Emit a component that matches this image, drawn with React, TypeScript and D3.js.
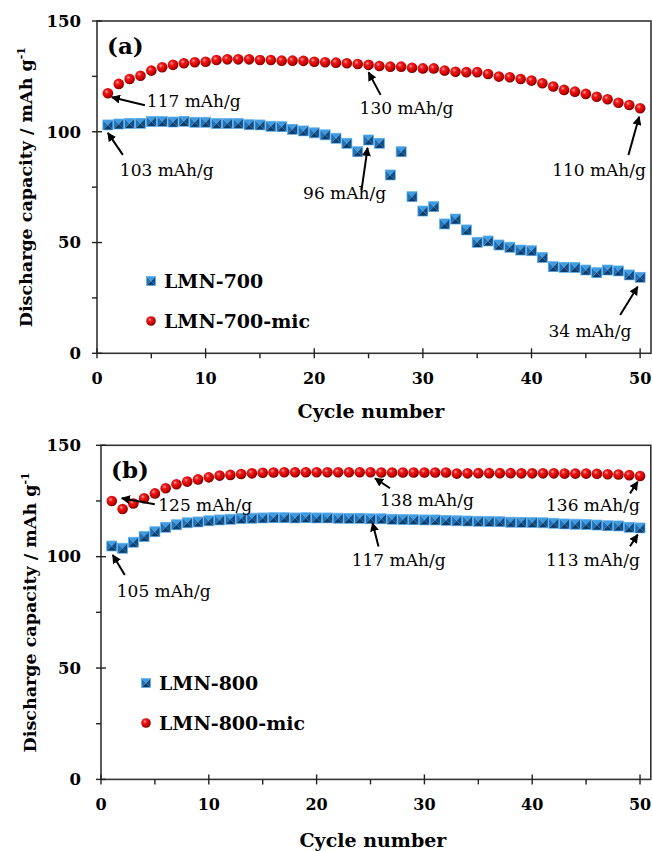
import React from "react";
import * as d3 from "d3";

const cycles = d3.range(1, 51);

const lmn700 = [103.1,103.5,103.7,103.8,104.6,104.6,104.4,104.7,104.3,104.3,
  103.7,103.7,103.7,103.2,103.1,102.5,102.3,101.1,100.4,99.5,
  98.6,97.1,94.8,91.0,96.3,94.8,80.5,91.0,70.7,64.2,
  66.2,58.4,60.6,55.7,50.1,50.7,48.9,47.9,46.6,46.3,
  43.3,39.1,38.8,38.7,37.6,36.4,37.6,37.2,35.4,34.3];

const lmn700mic = [117.4,121.6,123.8,125.3,127.6,129.1,130.2,130.9,131.4,131.6,
  132.4,132.7,132.7,132.7,132.4,132.4,132.1,132.1,132.0,131.6,
  131.4,131.2,130.9,130.6,130.2,129.7,129.4,129.4,128.9,128.6,
  128.6,127.6,127.1,126.9,126.9,126.1,124.9,124.6,123.8,123.1,
  121.9,120.4,118.9,118.1,117.1,115.8,114.7,113.1,112.1,110.6];

const lmn800 = [104.8,103.8,106.5,109.0,111.2,113.2,114.3,115.2,115.6,116.1,
  116.5,116.8,117.1,117.3,117.4,117.5,117.5,117.4,117.5,117.4,
  117.4,117.3,117.2,117.2,117.0,117.0,116.8,116.7,116.6,116.5,
  116.5,116.3,116.1,116.0,115.9,115.8,115.7,115.5,115.4,115.3,
  115.2,115.0,114.7,114.6,114.4,114.2,113.9,113.8,113.2,112.9];

const lmn800mic = [125.0,121.4,123.9,126.2,128.4,130.7,132.5,133.7,134.7,135.6,
  136.4,136.7,137.1,137.4,137.7,137.8,137.9,137.9,137.9,137.9,
  137.9,137.9,137.9,137.9,137.9,137.8,137.8,137.8,137.8,137.8,
  137.8,137.8,137.3,137.4,137.5,137.5,137.5,137.5,137.4,137.4,
  137.4,137.4,137.3,137.3,137.3,137.2,137.0,136.9,136.6,136.2];

const xTicks = [0, 10, 20, 30, 40, 50];
const xMinor = [5, 15, 25, 35, 45];
const yTicks = [0, 50, 100, 150];
const yMinor = [25, 75, 125];

const namesA = ["LMN-700", "LMN-700-mic"];
const namesB = ["LMN-800", "LMN-800-mic"];

// annotations: series index (0 square, 1 sphere), cycle, label
const annA = [
  { s: 1, c: 1, label: "117 mAh/g" },
  { s: 0, c: 1, label: "103 mAh/g" },
  { s: 0, c: 25, label: "96 mAh/g" },
  { s: 1, c: 25, label: "130 mAh/g" },
  { s: 1, c: 50, label: "110 mAh/g" },
  { s: 0, c: 50, label: "34 mAh/g" },
];
const annB = [
  { s: 1, c: 1, label: "125 mAh/g" },
  { s: 0, c: 1, label: "105 mAh/g" },
  { s: 1, c: 25, label: "138 mAh/g" },
  { s: 0, c: 25, label: "117 mAh/g" },
  { s: 1, c: 50, label: "136 mAh/g" },
  { s: 0, c: 50, label: "113 mAh/g" },
];

// layout offsets (pixels) for annotation head, tail, text relative to data point
const annLayoutA = [
  { head: [4, 4], tail: [37, 12], text: [39, 13.5] },
  { head: [0, 8], tail: [15, 30], text: [12, 51.5] },
  { head: [-1, 8], tail: [-7, 50], text: [-65.5, 59] },
  { head: [0, 7.5], tail: [12, 30], text: [-9, 49] },
  { head: [-1, 8.5], tail: [-11.7, 46.7], text: [-88, 68] },
  { head: [-2.5, 9.5], tail: [-20, 37.7], text: [-91.7, 59.7] },
];
const annLayoutB = [
  { head: [10, -2.7], tail: [43, 3.3], text: [46.5, 10] },
  { head: [1, 9], tail: [13, 29], text: [5, 51] },
  { head: [4.5, 6], tail: [19.5, 16], text: [9.5, 33.7] },
  { head: [2, 4.3], tail: [8, 27.7], text: [-18.8, 47] },
  { head: [-2.3, 5.7], tail: [-10, 17.3], text: [-94, 35] },
  { head: [-2.3, 6.7], tail: [-10, 18.3], text: [-94, 37.7] },
];

const FONT = "'DejaVu Serif', serif";

function Square({ cx, cy, h }: { cx: number; cy: number; h: number }) {
  const p = (pts: number[][]) => pts.map((q) => q.join(",")).join(" ");
  return (
    <g>
      <polygon points={p([[cx - h, cy - h], [cx + h, cy - h], [cx, cy]])} fill="#3f9be0" />
      <polygon points={p([[cx - h, cy - h], [cx - h, cy + h], [cx, cy]])} fill="#1f72b8" />
      <polygon points={p([[cx + h, cy - h], [cx + h, cy + h], [cx, cy]])} fill="#0d4f8a" />
      <polygon points={p([[cx - h, cy + h], [cx + h, cy + h], [cx, cy]])} fill="#0a3d6c" />
      <rect x={cx - h} y={cy - h} width={2 * h} height={2 * h} fill="none" stroke="#5aaef0" strokeWidth={0.7} />
    </g>
  );
}

function Sphere({ cx, cy, r }: { cx: number; cy: number; r: number }) {
  return <circle cx={cx} cy={cy} r={r} fill="url(#sphereGrad)" />;
}

function Panel({
  top, bottom, left, right, xMax, sq, sp, names, ann, layout, tag, legendX, legendY, titleDy,
}: any) {
  const x = d3.scaleLinear().domain([0, xMax]).range([left, right]);
  const y = d3.scaleLinear().domain([0, 150]).range([bottom, top]);
  const series = [sq, sp];
  return (
    <g>
      <rect x={left} y={top} width={right - left} height={bottom - top} fill="none" stroke="#333" strokeWidth={1.6} />
      {xTicks.map((t) => (
        <g key={"xt" + t}>
          <line x1={x(t)} x2={x(t)} y1={bottom - 5} y2={bottom + 5} stroke="#222" strokeWidth={1.4} />
          <text x={x(t)} y={bottom + 31} textAnchor="middle" fontFamily={FONT} fontWeight="bold" fontSize={16}>{t}</text>
        </g>
      ))}
      {xMinor.map((t) => (
        <line key={"xm" + t} x1={x(t)} x2={x(t)} y1={bottom} y2={bottom + 5} stroke="#222" strokeWidth={1.4} />
      ))}
      {yTicks.map((t) => (
        <g key={"yt" + t}>
          <line x1={left - 5} x2={left + 5} y1={y(t)} y2={y(t)} stroke="#222" strokeWidth={1.4} />
          <text x={81} y={y(t)} dy="0.35em" textAnchor="end" fontFamily={FONT} fontWeight="bold" fontSize={16.5}>{t}</text>
        </g>
      ))}
      {yMinor.map((t) => (
        <line key={"ym" + t} x1={left - 5} x2={left} y1={y(t)} y2={y(t)} stroke="#222" strokeWidth={1.4} />
      ))}
      <text x={(left + right) / 2 - 3} y={bottom + titleDy} textAnchor="middle" fontFamily={FONT} fontWeight="bold" fontSize={19}>Cycle number</text>
      <text transform={`translate(${left - 65}, ${(top + bottom) / 2}) rotate(-90)`} textAnchor="middle" fontFamily={FONT} fontWeight="bold" fontSize={17.5}>
        Discharge capacity / mAh g<tspan dy={-7} fontSize={11}>-1</tspan>
      </text>
      <text x={left + 10} y={top + 33} fontFamily={FONT} fontWeight="bold" fontSize={23}>{tag}</text>
      {cycles.map((c, i) => (
        <Square key={"s" + c} cx={x(c)} cy={y(sq[i])} h={5} />
      ))}
      {cycles.map((c, i) => (
        <Sphere key={"p" + c} cx={x(c)} cy={y(sp[i])} r={5.3} />
      ))}
      <Square cx={legendX} cy={legendY} h={4.5} />
      <text x={legendX + 13} y={legendY + 7} fontFamily={FONT} fontWeight="bold" fontSize={19}>{names[0]}</text>
      <Sphere cx={legendX} cy={legendY + 40} r={4.8} />
      <text x={legendX + 13} y={legendY + 47} fontFamily={FONT} fontWeight="bold" fontSize={19}>{names[1]}</text>
      {ann.map((a: any, k: number) => {
        const px = x(a.c);
        const py = y(series[a.s][a.c - 1]);
        const L = layout[k];
        return (
          <g key={"a" + k}>
            <line x1={px + L.tail[0]} y1={py + L.tail[1]} x2={px + L.head[0]} y2={py + L.head[1]} stroke="#000" strokeWidth={2} markerEnd="url(#arrow)" />
            <text x={px + L.text[0]} y={py + L.text[1]} fontFamily={FONT} fontSize={17}>{a.label}</text>
          </g>
        );
      })}
    </g>
  );
}

export default function App() {
  return (
    <svg width={652} height={851} style={{ position: "absolute", left: 0, top: 0, background: "#fff" }}>
      <defs>
        <radialGradient id="sphereGrad" cx="38%" cy="35%" r="65%">
          <stop offset="0%" stopColor="#ff9c9c" />
          <stop offset="30%" stopColor="#ee1a1a" />
          <stop offset="75%" stopColor="#c80000" />
          <stop offset="100%" stopColor="#7a0000" />
        </radialGradient>
        <marker id="arrow" viewBox="0 0 10 10" refX="9" refY="5" markerWidth="4.5" markerHeight="4.5" orient="auto" markerUnits="strokeWidth">
          <path d="M0,0 L10,5 L0,10 z" fill="#000" />
        </marker>
      </defs>
      <rect x={0} y={0} width={652} height={851} fill="#fff" />
      <Panel top={21} bottom={353.3} left={97} right={651} xMax={51} sq={lmn700} sp={lmn700mic}
        names={namesA} ann={annA} layout={annLayoutA} tag="(a)" legendX={151} legendY={281} titleDy={65} />
      <Panel top={445.3} bottom={779.4} left={101} right={650.8} xMax={51} sq={lmn800} sp={lmn800mic}
        names={namesB} ann={annB} layout={annLayoutB} tag="(b)" legendX={146} legendY={683} titleDy={68} />
    </svg>
  );
}
